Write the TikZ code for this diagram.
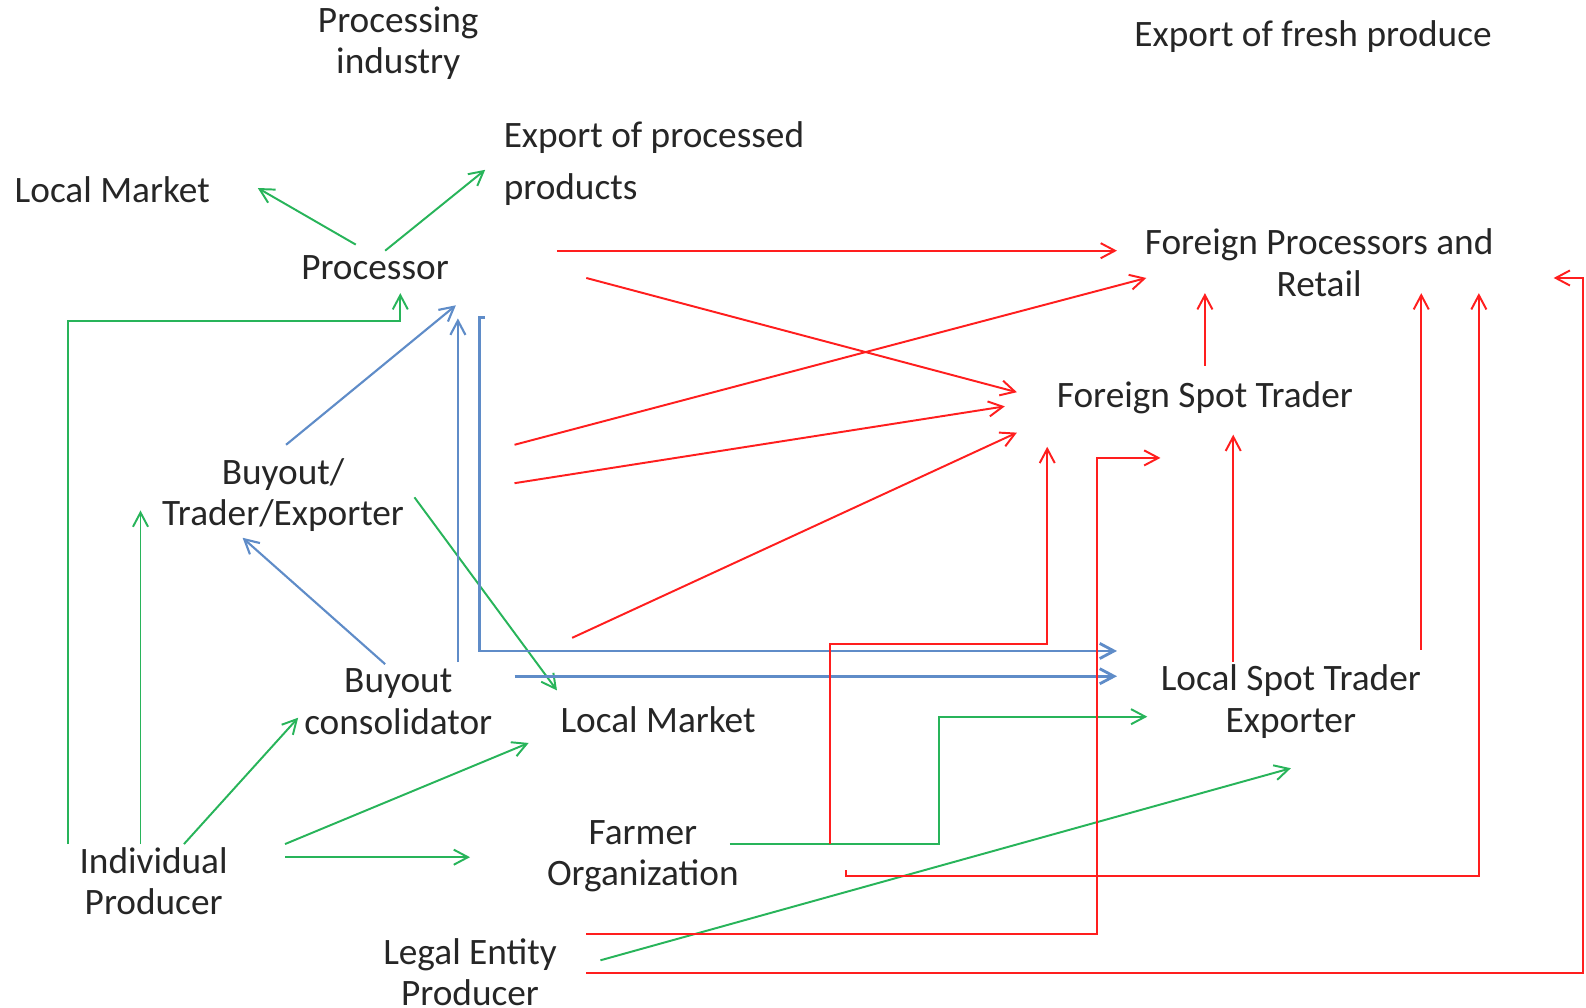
\documentclass[tikz,border=0pt]{standalone}
\usepackage{fontspec}
\setmainfont{Carlito}
\usetikzlibrary{arrows.meta}
\definecolor{flowgreen}{RGB}{40,180,90}
\definecolor{flowblue}{RGB}{95,140,200}
\definecolor{flowred}{RGB}{255,30,30}
\tikzset{
  actor/.style={inner sep=0pt, align=center, text=black!85, font=\fontsize{21}{23.3}\selectfont},
  >={Straight Barb[length=8pt,width=8.5pt]},
  gflow/.style={draw=flowgreen, line width=1.1pt, ->},
  bflow/.style={draw=flowblue, line width=1.2pt, ->},
  rflow/.style={draw=flowred, line width=1.1pt, ->}
}
\begin{document}
\begin{tikzpicture}[x=0.02cm,y=-0.02cm]
  \useasboundingbox (0,0) rectangle (1569,997);
  \node[actor] (proc_ind)   at (394,43)   {Processing\\industry};
  \node[actor] (exp_fresh)  at (1299,36)  {Export of fresh produce};
  \node[actor, align=left, anchor=west, font=\fontsize{21}{29}\selectfont] (exp_proc) at (498,162) {Export of processed\\products};
  \node[actor] (loc_mkt)    at (111,188)  {Local Market};
  \node[actor] (proc)       at (371,265)  {Processor};
  \node[actor] (f_proc)     at (1305,260) {Foreign Processors and\\Retail};
  \node[actor] (f_spot)     at (1192,393) {Foreign Spot Trader};
  \node[actor] (b_trader)   at (280,490)  {Buyout/\\Trader/Exporter};
  \node[actor] (b_cons)     at (394,694)  {Buyout\\consolidator};
  \node[actor] (loc_mkt2)   at (651,712)  {Local Market};
  \node[actor] (l_spot)     at (1277,694) {Local Spot Trader\\Exporter};
  \node[actor] (farm_org)   at (636,847)  {Farmer\\Organization};
  \node[actor] (ind_prod)   at (152,872)  {Individual\\Producer};
  \node[actor] (legal)      at (465,962)  {Legal Entity\\Producer};

  % green flows
  \draw[gflow] ([shift={(-19,-23)}]proc.center) -- ([shift={(144,-2)}]loc_mkt.center);
  \draw[gflow] ([shift={(10,-17)}]proc.center) -- ([shift={(-18,6)}]exp_proc.west);
  \draw[gflow] ([shift={(-85,-37)}]ind_prod.center) |- ([shift={(25,53)}]proc.center) -- ([shift={(25,25)}]proc.center);
  \draw[gflow] ([shift={(-13,-37)}]ind_prod.center) -- ([shift={(-141,15)}]b_trader.center);
  \draw[gflow] ([shift={(30,-37)}]ind_prod.center) -- ([shift={(-99,16)}]b_cons.center);
  \draw[gflow] ([shift={(130,-37)}]ind_prod.center) -- ([shift={(-128,23)}]loc_mkt2.center);
  \draw[gflow] ([shift={(130,-24)}]ind_prod.center) -- ([shift={(-171,1)}]farm_org.center);
  \draw[gflow] ([shift={(130,2)}]b_trader.center) -- ([shift={(-100,-29)}]loc_mkt2.center);
  \draw[gflow] ([shift={(86,-12)}]farm_org.center) -| ([shift={(-348,15)}]l_spot.center) -- ([shift={(-142,15)}]l_spot.center);
  \draw[gflow] ([shift={(129,-12)}]legal.center) -- ([shift={(0,66)}]l_spot.center);

  % blue flows
  \draw[bflow] ([shift={(3,-50)}]b_trader.center) -- ([shift={(80,37)}]proc.center);
  \draw[bflow] ([shift={(59,-39)}]b_cons.center) -- ([shift={(82,50)}]proc.center);
  \draw[bflow] ([shift={(-13,-37)}]b_cons.center) -- ([shift={(-40,42)}]b_trader.center);
  \draw[bflow, line width=1.6pt] ([shift={(109,49)}]proc.center) -- ([shift={(103,49)}]proc.center) |- ([shift={(-172,-50)}]l_spot.center);
  \draw[bflow, line width=1.6pt] ([shift={(115,-25)}]b_cons.center) -- ([shift={(-172,-25)}]l_spot.center);

  % red flows
  \draw[rflow] ([shift={(180,-17)}]proc.center) -- ([shift={(-200,-12)}]f_proc.center);
  \draw[rflow] ([shift={(209,10)}]proc.center) -- ([shift={(-186,-5)}]f_spot.center);
  \draw[rflow] ([shift={(229,-50)}]b_trader.center) -- ([shift={(-171,15)}]f_proc.center);
  \draw[rflow] ([shift={(229,-12)}]b_trader.center) -- ([shift={(-198,9)}]f_spot.center);
  \draw[rflow] ([shift={(172,-63)}]b_cons.center) -- ([shift={(-186,35)}]f_spot.center);
  \draw[rflow] ([shift={(185,-12)}]farm_org.center) |- ([shift={(-156,244)}]f_spot.center) -- ([shift={(-156,49)}]f_spot.center);
  \draw[rflow] ([shift={(115,-38)}]legal.center) -| ([shift={(-107,60)}]f_spot.center) -- ([shift={(-44,60)}]f_spot.center);
  \draw[rflow] ([shift={(-57,-39)}]l_spot.center) -- ([shift={(28,37)}]f_spot.center);
  \draw[rflow] ([shift={(0,-31)}]f_spot.center) -- ([shift={(-113,30)}]f_proc.center);
  \draw[rflow] ([shift={(129,-51)}]l_spot.center) -- ([shift={(101,30)}]f_proc.center);
  \draw[rflow] ([shift={(201,14)}]farm_org.center) -- ([shift={(201,20)}]farm_org.center) -| ([shift={(158,30)}]f_proc.center);
  \draw[rflow] ([shift={(115,1)}]legal.center) -| ([shift={(261,15)}]f_proc.center) -- ([shift={(232,15)}]f_proc.center);
\end{tikzpicture}
\end{document}
